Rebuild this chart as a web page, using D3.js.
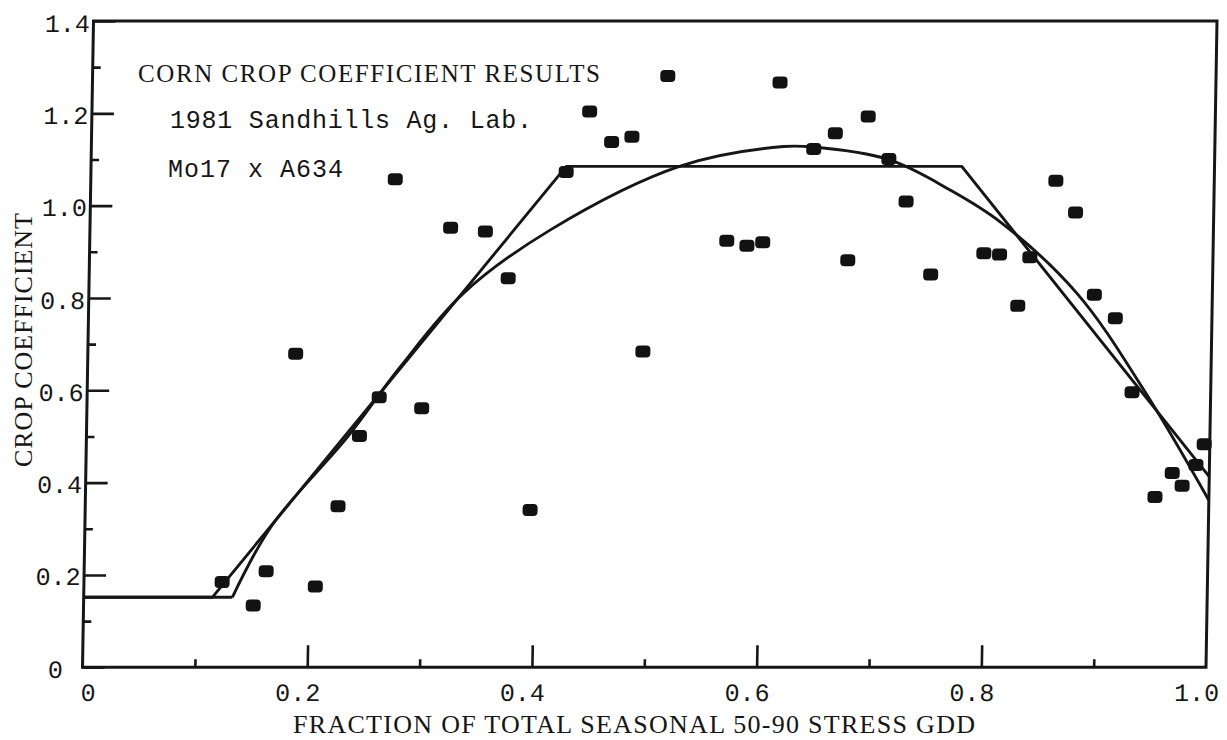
<!DOCTYPE html>
<html>
<head>
<meta charset="utf-8">
<script src="https://cdn.jsdelivr.net/npm/d3@7"></script>
<style>
  html, body { margin: 0; padding: 0; background: #fff; }
  svg { display: block; }
</style>
</head>
<body>
<svg id="chart" width="1227" height="740"></svg>
<script>
// ---- Axis ticks -------------------------------------------------------
const xTickValues = [0, 0.2, 0.4, 0.6, 0.8, 1.0];
const xTickLabels = ["0", "0.2", "0.4", "0.6", "0.8", "1.0"];
const xMinorTicks = [0.1, 0.3, 0.5, 0.7, 0.9];
const yTickValues = [0, 0.2, 0.4, 0.6, 0.8, 1.0, 1.2, 1.4];
const yTickLabels = ["0", "0.2", "0.4", "0.6", "0.8", "1.0", "1.2", "1.4"];
const yMinorTicks = [0.1, 0.3, 0.5, 0.7, 0.9, 1.1, 1.3];

// ---- Observed crop coefficients (fraction of seasonal stress GDD) -----
const fraction = [0.123, 0.151, 0.162, 0.185, 0.206, 0.225, 0.243, 0.260, 0.298, 0.271,
                  0.321, 0.352, 0.373, 0.396, 0.423, 0.443, 0.463, 0.481, 0.494, 0.512,
                  0.567, 0.585, 0.599, 0.612, 0.643, 0.662, 0.675, 0.691, 0.710, 0.726,
                  0.749, 0.859, 0.877, 0.796, 0.810, 0.837, 0.827, 0.895, 0.914, 0.930,
                  0.995, 0.988, 0.967, 0.976, 0.952];
const coefficient = [0.185, 0.134, 0.208, 0.679, 0.175, 0.349, 0.501, 0.585, 0.561, 1.057,
                     0.952, 0.944, 0.843, 0.341, 1.073, 1.204, 1.138, 1.149, 0.684, 1.281,
                     0.924, 0.913, 0.921, 1.267, 1.123, 1.157, 0.882, 1.193, 1.101, 1.009,
                     0.851, 1.054, 0.985, 0.897, 0.894, 0.888, 0.783, 0.807, 0.756, 0.596,
                     0.483, 0.438, 0.421, 0.393, 0.369];

// ---- Piecewise linear (trapezoid) crop coefficient curve --------------
const trapX = [0, 0.1145, 0.423, 0.775, 1.0];
const trapY = [0.1516, 0.1516, 1.085, 1.085, 0.413];

// ---- Smooth fitted curve (flat initial value, then the fitted shape) --
const curveX = [0, 0.1323, 0.1663, 0.2328, 0.278, 0.3333, 0.4095, 0.5251, 0.6159,
                0.6426, 0.7095, 0.765, 0.81, 0.8795, 0.9415, 1.0];
const curveY = [0.1516, 0.1516, 0.3067, 0.50, 0.65, 0.81, 0.947, 1.086, 1.128,
                1.127, 1.10, 1.034, 0.965, 0.81, 0.597, 0.362];

// ---- Text -------------------------------------------------------------
const noteLines = ["CORN CROP COEFFICIENT RESULTS", "1981 Sandhills Ag. Lab.", "Mo17 x A634"];
const xTitle = "FRACTION OF TOTAL SEASONAL 50-90 STRESS GDD";
const yTitle = "CROP COEFFICIENT";

// ---- Layout -----------------------------------------------------------
const ink = "#161616";
const serif = "'Liberation Serif', 'DejaVu Serif', serif";
const mono = "'Liberation Mono', 'DejaVu Sans Mono', monospace";
const svg = d3.select("#chart");
svg.append("rect").attr("width", 1227).attr("height", 740).attr("fill", "#fff");

const x = d3.scaleLinear().domain([0, 1]).range([82.5, 1206]);
const y = d3.scaleLinear().domain([0, 1.4]).range([667.3, 21]);

// the plotted frame leans slightly to the right towards the top
const lean = -0.975;
const g = svg.append("g")
  .attr("transform", `translate(0,${y(0)}) skewX(${lean}) translate(0,${-y(0)})`);

// frame
g.append("rect")
  .attr("x", x(0)).attr("y", y(1.4))
  .attr("width", x(1) - x(0)).attr("height", y(0) - y(1.4))
  .attr("fill", "none").attr("stroke", ink).attr("stroke-width", 3);

function styleTicks(sel) {
  sel.select(".domain").remove();
  sel.selectAll(".tick line").attr("stroke", ink).attr("stroke-width", 2.6);
  sel.selectAll(".tick text").remove();
}

// inward ticks on the left axis
g.append("g").attr("transform", `translate(${x(0)},0)`)
  .call(d3.axisRight(y).tickValues(yTickValues).tickSize(22).tickFormat(""))
  .call(styleTicks);
g.append("g").attr("transform", `translate(${x(0)},0)`)
  .call(d3.axisRight(y).tickValues(yMinorTicks).tickSize(8).tickFormat(""))
  .call(styleTicks);

// inward ticks on the bottom axis
g.append("g").attr("transform", `translate(0,${y(0)})`)
  .call(d3.axisTop(x).tickValues(xTickValues.slice(1, -1)).tickSize(22).tickFormat(""))
  .call(styleTicks);
g.append("g").attr("transform", `translate(0,${y(0)})`)
  .call(d3.axisTop(x).tickValues(xMinorTicks).tickSize(8).tickFormat(""))
  .call(styleTicks);

// y tick labels
const yLab = g.append("g").attr("transform", `translate(${x(0)},0)`)
  .call(d3.axisLeft(y).tickValues(yTickValues).tickSize(0).tickPadding(3.5)
        .tickFormat((d, i) => yTickLabels[i]));
yLab.select(".domain").remove();
yLab.selectAll(".tick text")
  .style("font-family", mono)
  .style("font-size", "25px").attr("fill", ink)
  .attr("dy", 10)
  .attr("dx", d => d === 0 ? -16 : 0);

// x tick labels
const xLab = g.append("g").attr("transform", `translate(0,${y(0)})`)
  .call(d3.axisBottom(x).tickValues(xTickValues).tickSize(0)
        .tickFormat((d, i) => xTickLabels[i]));
xLab.select(".domain").remove();
xLab.selectAll(".tick text")
  .style("font-family", mono)
  .style("font-size", "25px").attr("fill", ink)
  .attr("text-anchor", "end")
  .attr("y", 34).attr("dy", 0).attr("dx", 13);

// fitted lines
const trapLine = d3.line().x(d => x(d[0])).y(d => y(d[1])).curve(d3.curveLinear);
g.append("path")
  .datum(trapX.map((v, i) => [v, trapY[i]]))
  .attr("d", trapLine)
  .attr("fill", "none").attr("stroke", ink).attr("stroke-width", 2.9)
  .attr("stroke-linejoin", "round");

const curvePts = curveX.map((v, i) => [v, curveY[i]]);
g.append("path")
  .datum(curvePts.slice(0, 2))
  .attr("d", trapLine)
  .attr("fill", "none").attr("stroke", ink).attr("stroke-width", 2.9);
const smoothLine = d3.line().x(d => x(d[0])).y(d => y(d[1])).curve(d3.curveCatmullRom.alpha(0.5));
g.append("path")
  .datum(curvePts.slice(1))
  .attr("d", smoothLine)
  .attr("fill", "none").attr("stroke", ink).attr("stroke-width", 2.9)
  .attr("stroke-linejoin", "round");

// observations
const obs = fraction.map((v, i) => ({ f: v, k: coefficient[i] }));
g.append("g").selectAll("rect")
  .data(obs).join("rect")
  .attr("x", d => x(d.f) - 7.5).attr("y", d => y(d.k) - 6)
  .attr("width", 15).attr("height", 12).attr("rx", 4).attr("ry", 4)
  .attr("fill", "#121212");

// note block: heading in serif capitals, detail lines in typewriter mono
const notePos = [[138, 82, 462], [170, 128, 362], [168, 177, 175]];
const noteFont = [serif, mono, mono];
svg.append("g").selectAll("text")
  .data(noteLines).join("text")
  .attr("x", (d, i) => notePos[i][0]).attr("y", (d, i) => notePos[i][1])
  .attr("textLength", (d, i) => notePos[i][2])
  .attr("lengthAdjust", "spacing")
  .style("font-family", (d, i) => noteFont[i])
  .style("font-size", "25px").attr("fill", ink)
  .text(d => d);

// axis titles
svg.append("text")
  .attr("x", 293).attr("y", 733)
  .attr("textLength", 682).attr("lengthAdjust", "spacing")
  .style("font-family", serif)
  .style("font-size", "26px").attr("fill", ink)
  .text(xTitle);

svg.append("text")
  .attr("transform", "translate(32,467) rotate(-90)")
  .attr("x", 0).attr("y", 0)
  .attr("textLength", 254).attr("lengthAdjust", "spacing")
  .style("font-family", serif)
  .style("font-size", "26px").attr("fill", ink)
  .text(yTitle);
</script>
</body>
</html>
